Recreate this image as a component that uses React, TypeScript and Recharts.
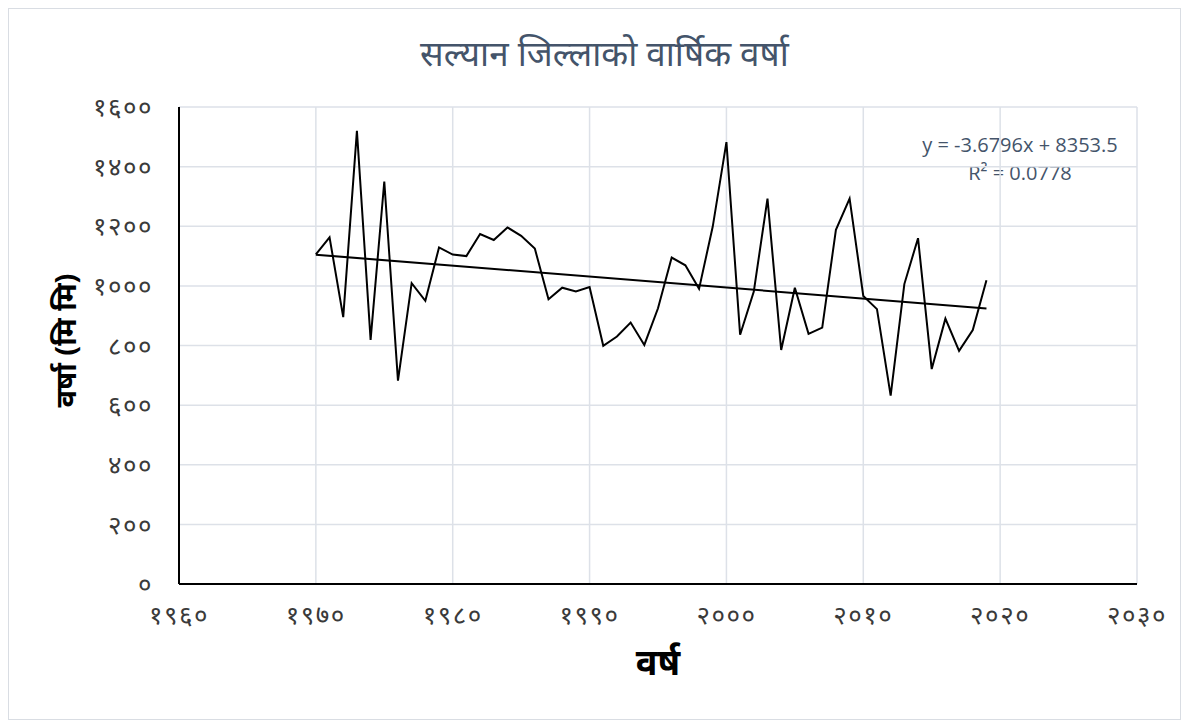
import React from 'react';
import { LineChart, Line, XAxis, YAxis, CartesianGrid, Label } from 'recharts';

// annual rainfall, Salyan district (mm)
const years = [
  1970, 1971, 1972, 1973, 1974, 1975, 1976, 1977, 1978, 1979,
  1980, 1981, 1982, 1983, 1984, 1985, 1986, 1987, 1988, 1989,
  1990, 1991, 1992, 1993, 1994, 1995, 1996, 1997, 1998, 1999,
  2000, 2001, 2002, 2003, 2004, 2005, 2006, 2007, 2008, 2009,
  2010, 2011, 2012, 2013, 2014, 2015, 2016, 2017, 2018, 2019,
];
const rainfall = [
  1106, 1163, 895, 1520, 819, 1350, 682, 1009, 950, 1129,
  1105, 1100, 1174, 1154, 1196, 1168, 1125, 955, 994, 981,
  996, 799, 830, 877, 802, 925, 1095, 1069, 990, 1199,
  1482, 836, 981, 1293, 785, 994, 839, 860, 1188, 1293,
  966, 922, 632, 1006, 1160, 721, 890, 782, 852, 1019,
];
const xTicks = [1960, 1970, 1980, 1990, 2000, 2010, 2020, 2030];
const yTicks = [0, 200, 400, 600, 800, 1000, 1200, 1400, 1600];

// Excel linear trendline as printed on the chart
const trendSlope = -3.6796;
const trendIntercept = 8353.5;
const trendLabel = 'y = -3.6796x + 8353.5';
const r2Label = 'R² = 0.0778';

const data = years.map((year, i) => ({ year, rain: rainfall[i] }));
const trendData = [years[0], years[years.length - 1]].map(year => ({
  year,
  trend: trendSlope * year + trendIntercept,
}));

const devDigits = '०१२३४५६७८९';
const toDev = (n: number) => String(n).replace(/\d/g, d => devDigits[+d]);

const tickStyle = {
  fontSize: 26,
  fill: '#3a3a3a',
  letterSpacing: 1.5,
  fontFamily: '"Noto Sans", sans-serif',
};

export default function App() {
  return (
    <div
      style={{
        position: 'relative',
        width: 1171,
        height: 710,
        border: '1px solid #d9dde3',
        background: '#fff',
        fontFamily: '"Noto Sans", sans-serif',
      }}
    >
      <div
        style={{
          position: 'absolute',
          top: 20,
          left: 10,
          width: '100%',
          textAlign: 'center',
          fontSize: 35,
          color: '#44546a',
        }}
      >
        सल्यान जिल्लाको वार्षिक वर्षा
      </div>
      <div
        style={{
          position: 'absolute',
          left: 881,
          top: 122,
          width: 260,
          textAlign: 'center',
          fontSize: 20,
          lineHeight: '28px',
          color: '#44546a',
          fontFamily: '"Open Sans", sans-serif',
        }}
      >
        <div>{trendLabel}</div>
        <div>{r2Label}</div>
      </div>
      <LineChart width={1171} height={710} margin={{ top: 98, right: 43, left: 0, bottom: 0 }}>
        <CartesianGrid stroke="#dde1e8" strokeWidth={1.5} />
        <XAxis
          dataKey="year"
          type="number"
          domain={[1960, 2030]}
          ticks={xTicks}
          allowDataOverflow
          tickFormatter={toDev}
          tick={tickStyle}
          tickLine={false}
          tickSize={0}
          tickMargin={22}
          axisLine={{ stroke: '#000', strokeWidth: 2 }}
          height={135}
        >
          <Label
            content={({ viewBox }: any) => (
              <text
                x={viewBox.x + viewBox.width / 2}
                y={viewBox.y + 81}
                textAnchor="middle"
                dominantBaseline="middle"
                fontSize={36}
                fontWeight="bold"
                fill="#000"
              >
                वर्ष
              </text>
            )}
          />
        </XAxis>
        <YAxis
          type="number"
          domain={[0, 1600]}
          ticks={yTicks}
          tickFormatter={toDev}
          tick={tickStyle}
          tickLine={false}
          tickSize={0}
          tickMargin={26}
          axisLine={{ stroke: '#000', strokeWidth: 2 }}
          width={170}
        >
          <Label
            content={({ viewBox }: any) => {
              const cx = 59;
              const cy = viewBox.y + viewBox.height / 2 - 5;
              return (
                <text
                  x={cx}
                  y={cy}
                  transform={`rotate(-90 ${cx} ${cy})`}
                  textAnchor="middle"
                  dominantBaseline="middle"
                  fontSize={29}
                  fontWeight="bold"
                  fill="#000"
                >
                  वर्षा (मि मि)
                </text>
              );
            }}
          />
        </YAxis>
        <Line
          data={data}
          dataKey="rain"
          stroke="#000"
          strokeWidth={2}
          dot={false}
          isAnimationActive={false}
        />
        <Line
          data={trendData}
          dataKey="trend"
          stroke="#000"
          strokeWidth={2}
          dot={false}
          isAnimationActive={false}
        />
      </LineChart>
    </div>
  );
}
